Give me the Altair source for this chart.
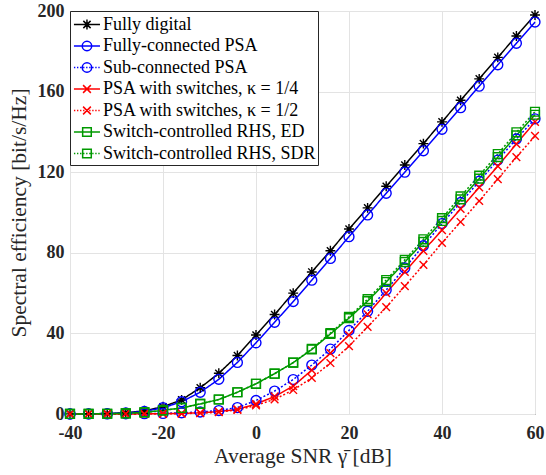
import altair as alt
import pandas as pd

# Average SNR grid [dB]
snr_db = [-40, -36, -32, -28, -24, -20, -16, -12, -8, -4, 0, 4, 8,
          12, 16, 20, 24, 28, 32, 36, 40, 44, 48, 52, 56, 60]

# Spectral efficiency [bit/s/Hz] per architecture
fully_digital = [0.05, 0.1, 0.25, 0.6, 1.6, 3.6, 7.0, 13.0, 20.2, 29.0, 39.2, 49.4, 60.0,
                 70.5, 81.0, 91.8, 102.3, 113.0, 123.6, 134.2, 145.0, 155.7, 166.3, 177.0, 187.6, 198.0]
fully_connected = [0.04, 0.08, 0.2, 0.5, 1.3, 3.1, 6.1, 10.8, 17.2, 25.6, 35.3, 45.5, 55.8,
                   66.4, 77.2, 88.0, 98.8, 109.5, 120.0, 130.6, 141.3, 152.0, 162.7, 173.3, 184.0, 194.5]
sub_connected = [0.01, 0.02, 0.04, 0.08, 0.15, 0.3, 0.6, 1.0, 1.7, 3.2, 6.7, 11.4, 17.1,
                 24.3, 32.2, 41.5, 51.0, 61.5, 72.5, 83.5, 94.5, 105.0, 115.5, 126.0, 136.5, 146.5]
psa_sw_quarter = [0.01, 0.01, 0.02, 0.04, 0.08, 0.15, 0.3, 0.6, 1.2, 2.3, 5.0, 8.7, 13.8,
                  21.8, 30.2, 39.2, 49.5, 60.0, 70.5, 81.0, 91.3, 101.8, 112.5, 123.0, 134.0, 145.0]
psa_sw_half = [0.01, 0.01, 0.02, 0.03, 0.06, 0.1, 0.2, 0.4, 0.9, 2.0, 4.3, 7.3, 11.9,
               17.9, 25.3, 33.7, 43.2, 53.0, 63.5, 74.0, 84.9, 95.3, 105.7, 116.6, 127.5, 138.0]
rhs_ed = [0.02, 0.05, 0.12, 0.3, 0.8, 1.8, 3.0, 5.0, 7.2, 10.8, 15.0, 20.0, 25.5,
          32.0, 39.7, 47.6, 56.0, 65.5, 75.4, 85.4, 95.8, 106.5, 116.8, 127.5, 138.3, 148.5]
rhs_sdr = [0.02, 0.05, 0.12, 0.3, 0.8, 1.8, 3.0, 5.0, 7.2, 10.8, 15.0, 20.0, 25.5,
           32.3, 40.2, 48.2, 57.0, 66.5, 76.5, 86.7, 97.2, 108.0, 118.3, 129.0, 139.8, 150.0]

series_names = [
    "Fully digital",
    "Fully-connected PSA",
    "Sub-connected PSA",
    "PSA with switches, κ = 1/4",
    "PSA with switches, κ = 1/2",
    "Switch-controlled RHS, ED",
    "Switch-controlled RHS, SDR",
]
series_values = [fully_digital, fully_connected, sub_connected,
                 psa_sw_quarter, psa_sw_half, rhs_ed, rhs_sdr]

colors = ["#000000", "#0000ff", "#0000ff", "#ff0000", "#ff0000", "#009900", "#009900"]
dashes = [[1, 0], [1, 0], [2, 2], [1, 0], [2, 2], [1, 0], [2, 2]]
dotted = [False, False, True, False, True, False, True]
marker_kind = ["asterisk", "circle", "circle", "x", "x", "square", "square"]


def marker_path(kind, r, cx=0.0):
    """Outline marker as an SVG path in the symbol box, centred at (cx, 0)."""
    if kind == "circle":
        return (f"M{cx + r:.3f},0A{r},{r},0,1,1,{cx - r:.3f},0"
                f"A{r},{r},0,1,1,{cx + r:.3f},0Z")
    if kind == "square":
        return (f"M{cx - r:.3f},{-r}L{cx + r:.3f},{-r}"
                f"L{cx + r:.3f},{r}L{cx - r:.3f},{r}Z")
    if kind == "x":
        return (f"M{cx - r:.3f},{-r}L{cx + r:.3f},{r}"
                f"M{cx - r:.3f},{r}L{cx + r:.3f},{-r}")
    d = round(r * 0.72, 3)
    return (f"M{cx - r:.3f},0L{cx + r:.3f},0M{cx:.3f},{-r}L{cx:.3f},{r}"
            f"M{cx - d:.3f},{-d}L{cx + d:.3f},{d}M{cx - d:.3f},{d}L{cx + d:.3f},{-d}")


def legend_path(kind, is_dotted, cx=0.33, half=1.24):
    """Line sample plus marker for a legend entry."""
    size = {"circle": 0.45, "square": 0.41, "x": 0.37, "asterisk": 0.48}[kind]
    lo, hi = cx - half, cx + half
    if is_dotted:
        segs = []
        p = lo
        while p < hi:
            q = min(p + 0.13, hi)
            segs.append(f"M{p:.3f},0L{q:.3f},0")
            p += 0.29
        line = "".join(segs)
    else:
        line = f"M{lo:.3f},0L{hi:.3f},0"
    return line + marker_path(kind, size, cx)


point_sizes = {"circle": 0.9, "square": 0.8, "x": 0.7, "asterisk": 0.9}
point_shapes = [marker_path(k, point_sizes[k]) for k in marker_kind]
legend_shapes = [legend_path(k, d) for k, d in zip(marker_kind, dotted)]

rows = []
for name, vals in zip(series_names, series_values):
    for xv, yv in zip(snr_db, vals):
        rows.append({"snr": xv, "se": yv, "series": name})
df = pd.DataFrame(rows)

legend_df = pd.DataFrame({"series": series_names, "snr": [snr_db[0]] * len(series_names),
                          "se": [0.0] * len(series_names)})

x_enc = alt.X("snr:Q",
              scale=alt.Scale(domain=[-40, 60], nice=False),
              axis=alt.Axis(values=[-40, -20, 0, 20, 40, 60],
                            labelExpr="'' + datum.value",
                            title="Average SNR γ̄ [dB]"))
y_enc = alt.Y("se:Q",
              scale=alt.Scale(domain=[0, 200], nice=False),
              axis=alt.Axis(values=[0, 40, 80, 120, 160, 200],
                            title="Spectral efficiency [bit/s/Hz]"))


def color_enc(show_legend):
    scale = alt.Scale(domain=series_names, range=colors)
    if show_legend:
        return alt.Color("series:N", scale=scale, title=None)
    return alt.Color("series:N", scale=scale, legend=None)


lines = alt.Chart(df).mark_line(strokeWidth=1.5).encode(
    x=x_enc, y=y_enc,
    color=color_enc(False),
    strokeDash=alt.StrokeDash("series:N",
                              scale=alt.Scale(domain=series_names, range=dashes),
                              legend=None),
    detail="series:N",
)

points = alt.Chart(df).mark_point(filled=False, size=121, strokeWidth=1.4, opacity=1).encode(
    x=x_enc, y=y_enc,
    color=color_enc(False),
    shape=alt.Shape("series:N",
                    scale=alt.Scale(domain=series_names, range=point_shapes),
                    legend=None),
)

# invisible layer that only carries the legend (line sample + marker per entry)
legend_layer = alt.Chart(legend_df).mark_point(filled=False, opacity=0).encode(
    x=x_enc, y=y_enc,
    color=color_enc(True),
    shape=alt.Shape("series:N",
                    scale=alt.Scale(domain=series_names, range=legend_shapes),
                    title=None),
)

chart = alt.layer(lines, points, legend_layer).resolve_scale(
    shape="independent", color="independent"
).properties(
    width=465, height=403,
    autosize=alt.AutoSizeParams(type="none"),
    padding={"left": 70, "top": 11, "right": 11, "bottom": 61},
).configure_view(
    stroke="#262626", strokeWidth=1,
).configure_axis(
    domain=False, ticks=False, labelFlush=False,
    grid=True, gridColor="#e3e3e3", gridWidth=1,
    labelFont="Liberation Serif", labelFontSize=18, labelFontWeight="bold",
    labelColor="#262626",
    titleFont="Liberation Serif", titleFontSize=21.5, titleFontWeight="normal",
    titleColor="#262626",
).configure_axisX(
    labelPadding=10, titlePadding=3,
).configure_axisY(
    labelPadding=6, titlePadding=7,
).configure_legend(
    orient="top-left", offset=0, padding=2,
    strokeColor="#262626", fillColor="white",
    symbolSize=441, symbolStrokeWidth=1.5, symbolOpacity=1,
    labelFont="Liberation Serif", labelFontSize=18, labelColor="black",
    labelLimit=400, labelOffset=8, rowPadding=0.5,
)

chart.save("out.html", embed_options={"renderer": "svg", "actions": False})
